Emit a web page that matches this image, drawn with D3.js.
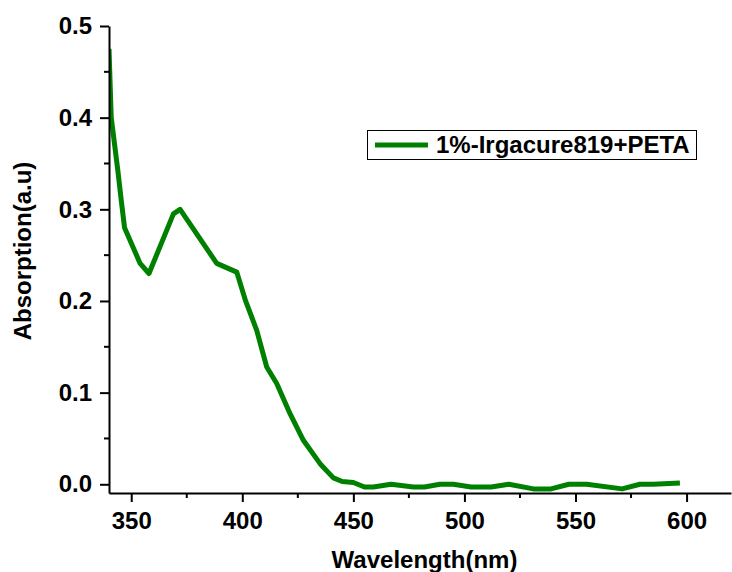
<!DOCTYPE html>
<html>
<head>
<meta charset="utf-8">
<script src="https://cdn.jsdelivr.net/npm/d3@7"></script>
<style>
  html, body { margin: 0; padding: 0; background: #fff; }
  svg { display: block; }
  text { font-family: "Liberation Sans", Arial, sans-serif; font-weight: bold; fill: #000; }
</style>
</head>
<body>
<script>
// UV-Vis absorption spectrum
const wavelength = [340, 341, 344, 345.5, 347, 354, 358, 369, 372, 388.5, 397.5, 401.5, 406.5, 411, 415.5, 421.5, 427.5, 435, 441, 445, 450, 455, 459, 467, 477, 482, 489, 495, 503, 512, 520, 531, 539, 547, 555, 571, 579, 585, 597];
const absorption = [0.475, 0.40, 0.342, 0.31, 0.28, 0.241, 0.23, 0.295, 0.30, 0.241, 0.2315, 0.20, 0.168, 0.128, 0.11, 0.077, 0.048, 0.0225, 0.007, 0.003, 0.002, -0.003, -0.003, 0, -0.003, -0.003, 0, 0, -0.003, -0.003, 0, -0.005, -0.005, 0, 0, -0.005, 0, 0, 0.0015];
const seriesName = "1%-Irgacure819+PETA";
const xTicks = [350, 400, 450, 500, 550, 600];
const xMinor = [375, 425, 475, 525, 575, 625];
const yTicks = [0.0, 0.1, 0.2, 0.3, 0.4, 0.5];
const yMinor = [0.05, 0.15, 0.25, 0.35, 0.45];

const W = 732, H = 572;
const mLeft = 109, mRight = 731, mTop = 26, mBottom = 493;

const svg = d3.select("body").append("svg").attr("width", W).attr("height", H);

const x = d3.scaleLinear().domain([340, 620]).range([mLeft, mRight]);
const y = d3.scaleLinear().domain([-0.0095, 0.5]).range([mBottom, mTop]);

svg.append("clipPath").attr("id", "plot-clip")
  .append("rect").attr("x", mLeft).attr("y", mTop - 5).attr("width", mRight - mLeft).attr("height", mBottom - mTop + 5);

const data = wavelength.map((w, i) => ({ w, a: absorption[i] }));
const line = d3.line().x(d => x(d.w)).y(d => y(d.a));

svg.append("path")
  .datum(data)
  .attr("clip-path", "url(#plot-clip)")
  .attr("d", line)
  .attr("fill", "none")
  .attr("stroke", "#008000")
  .attr("stroke-width", 5)
  .attr("stroke-linejoin", "round");

// Axes
const fontSize = 24;
const xAxis = svg.append("g").attr("transform", `translate(0,${mBottom})`)
  .call(d3.axisBottom(x).tickValues(xTicks).tickSize(9).tickSizeOuter(0).tickPadding(10).tickFormat(d3.format("d")));
xAxis.append("g").selectAll("line").data(xMinor.filter(v => x(v) <= mRight)).join("line")
  .attr("x1", d => x(d)).attr("x2", d => x(d)).attr("y1", 0).attr("y2", 5)
  .attr("stroke", "#000").attr("stroke-width", 2);

const yAxis = svg.append("g").attr("transform", `translate(${mLeft},0)`)
  .call(d3.axisLeft(y).tickValues(yTicks).tickSize(9).tickSizeOuter(0).tickPadding(8).tickFormat(d3.format(".1f")));
yAxis.append("g").selectAll("line").data(yMinor).join("line")
  .attr("y1", d => y(d)).attr("y2", d => y(d)).attr("x1", 0).attr("x2", -5)
  .attr("stroke", "#000").attr("stroke-width", 2);

[xAxis, yAxis].forEach(g => {
  g.select(".domain").attr("stroke", "#000").attr("stroke-width", 2);
  g.selectAll(".tick line").attr("stroke", "#000").attr("stroke-width", 2);
  g.selectAll(".tick text").attr("font-size", fontSize).attr("font-family", "Liberation Sans, Arial, sans-serif").attr("font-weight", "bold").attr("fill", "#000");
});

// Axis titles
svg.append("text")
  .attr("x", 424.5).attr("y", 568)
  .attr("text-anchor", "middle").attr("font-size", fontSize)
  .text("Wavelength(nm)");

svg.append("text")
  .attr("transform", `translate(31,251) rotate(-90)`)
  .attr("text-anchor", "middle").attr("font-size", fontSize)
  .text("Absorption(a.u)");

// Legend
const legend = svg.append("g");
legend.append("rect").attr("x", 367.5).attr("y", 130.5).attr("width", 329).attr("height", 29)
  .attr("fill", "#fff").attr("stroke", "#000").attr("stroke-width", 1);
legend.append("line").attr("x1", 375).attr("x2", 428).attr("y1", 145).attr("y2", 145)
  .attr("stroke", "#008000").attr("stroke-width", 5);
legend.append("text").attr("x", 436).attr("y", 153).attr("font-size", fontSize).text(seriesName);
</script>
</body>
</html>
